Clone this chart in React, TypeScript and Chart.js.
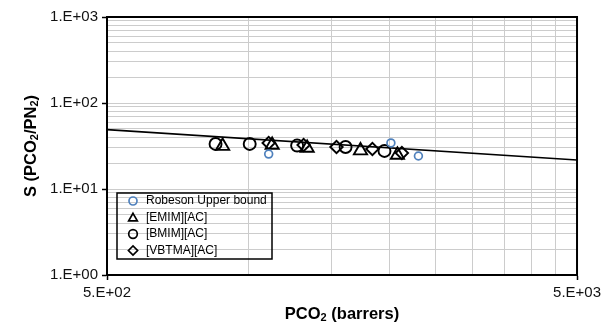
import React, { useEffect, useRef } from 'react';
import { Chart, registerables } from 'chart.js';
import { drawPoint } from 'chart.js/helpers';

Chart.register(...registerables);

// ---- data ----
const upperBoundX = [500, 5000];
const upperBoundY = [49, 21.7];

const robesonX = [1104, 2009, 2299];
const robesonY = [25.5, 34.3, 24.2];

const emimX = [881, 1123, 1333, 1731, 2074];
const emimY = [31.6, 32.5, 30.0, 28.0, 24.9];

const bmimX = [851, 1006, 1269, 1609, 1947];
const bmimY = [33.4, 33.4, 32.0, 30.8, 27.7];

const vbtmaX = [1104, 1310, 1539, 1835, 2120];
const vbtmaY = [34.3, 32.5, 30.8, 29.2, 26.2];

const seriesNames = ['Robeson Upper bound', '[EMIM][AC]', '[BMIM][AC]', '[VBTMA][AC]'];

const xGridValues = [500, 1000, 1500, 2000, 2500, 3000, 3500, 4000, 4500, 5000];
const xMajorValues = [500, 5000];
const xTickLabels = ['5.E+02', '5.E+03'];

const yGridValues = [
  1, 2, 3, 4, 5, 6, 7, 8, 9,
  10, 20, 30, 40, 50, 60, 70, 80, 90,
  100, 200, 300, 400, 500, 600, 700, 800, 900,
  1000,
];
const yMajorValues = [1, 10, 100, 1000];
const yTickLabels = ['1.E+00', '1.E+01', '1.E+02', '1.E+03'];

const FONT = "'Liberation Sans', Arial, sans-serif";
const BLUE = '#4f81bd';

const toPts = (xs: number[], ys: number[]) => xs.map((x, i) => ({ x, y: ys[i] }));

function drawSubText(
  ctx: CanvasRenderingContext2D,
  parts: [string, boolean][],
  cx: number,
  cy: number,
  bigFont: string,
  subFont: string,
  subShift: number
) {
  let total = 0;
  const widths = parts.map(([t, sub]) => {
    ctx.font = sub ? subFont : bigFont;
    const w = ctx.measureText(t).width;
    total += w;
    return w;
  });
  let x = cx - total / 2;
  ctx.textBaseline = 'middle';
  ctx.textAlign = 'left';
  parts.forEach(([t, sub], i) => {
    ctx.font = sub ? subFont : bigFont;
    ctx.fillText(t, x, sub ? cy + subShift : cy);
    x += widths[i];
  });
}

const decorPlugin = {
  id: 'decor',
  beforeDatasetsDraw(chart: any) {
    const { ctx, chartArea: a } = chart;
    ctx.save();
    ctx.strokeStyle = '#000';
    ctx.lineWidth = 2;
    ctx.strokeRect(a.left, a.top, a.right - a.left, a.bottom - a.top);
    ctx.restore();
  },
  afterDraw(chart: any) {
    const { ctx, chartArea: a } = chart;
    ctx.save();
    // axis titles
    ctx.fillStyle = '#000';
    const big = `bold 16.5px ${FONT}`;
    const sub = `bold 11px ${FONT}`;
    drawSubText(ctx, [['PCO', false], ['2', true], [' (barrers)', false]], (a.left + a.right) / 2, 314, big, sub, 4);
    ctx.save();
    ctx.translate(31, (a.top + a.bottom) / 2);
    ctx.rotate(-Math.PI / 2);
    drawSubText(
      ctx,
      [['S (PCO', false], ['2', true], ['/PN', false], ['2', true], [')', false]],
      0,
      0,
      big,
      sub,
      4
    );
    ctx.restore();

    // legend box
    const x0 = a.left + 10;
    const y0 = a.bottom - 82;
    const w = 155;
    const h = 66;
    ctx.strokeStyle = '#000';
    ctx.lineWidth = 1.5;
    ctx.strokeRect(x0, y0, w, h);
    const styles = [
      { pointStyle: 'circle', radius: 4, color: BLUE },
      { pointStyle: 'triangle', radius: 5, color: '#000' },
      { pointStyle: 'circle', radius: 4.3, color: '#000' },
      { pointStyle: 'rectRot', radius: 4.6, color: '#000' },
    ];
    ctx.font = `12px ${FONT}`;
    ctx.textBaseline = 'middle';
    ctx.textAlign = 'left';
    seriesNames.forEach((name, i) => {
      const cy = y0 + 8 + i * 16.5;
      const s = styles[i];
      ctx.strokeStyle = s.color;
      ctx.fillStyle = 'rgba(0,0,0,0)';
      ctx.lineWidth = 1.7;
      drawPoint(ctx, { pointStyle: s.pointStyle as any, radius: s.radius, rotation: 0, borderWidth: 1.7 }, x0 + 16, cy + (i === 1 ? 0.8 : 0));
      ctx.fillStyle = '#000';
      ctx.fillText(name, x0 + 29, cy);
    });
    ctx.restore();
  },
};

export default function App() {
  const ref = useRef<HTMLCanvasElement | null>(null);

  useEffect(() => {
    if (!ref.current) return;
    const chart = new Chart(ref.current, {
      type: 'scatter',
      data: {
        datasets: [
          {
            label: seriesNames[0],
            data: toPts(robesonX, robesonY),
            pointStyle: 'circle',
            pointRadius: 3.9,
            borderColor: BLUE,
            backgroundColor: 'rgba(0,0,0,0)',
            borderWidth: 1.7,
          },
          {
            label: seriesNames[1],
            data: toPts(emimX, emimY),
            pointStyle: 'triangle',
            pointRadius: 7.6,
            borderColor: '#000',
            backgroundColor: 'rgba(0,0,0,0)',
            borderWidth: 1.9,
          },
          {
            label: seriesNames[2],
            data: toPts(bmimX, bmimY),
            pointStyle: 'circle',
            pointRadius: 6,
            borderColor: '#000',
            backgroundColor: 'rgba(0,0,0,0)',
            borderWidth: 1.9,
          },
          {
            label: seriesNames[3],
            data: toPts(vbtmaX, vbtmaY),
            pointStyle: 'rectRot',
            pointRadius: 6.2,
            borderColor: '#000',
            backgroundColor: 'rgba(0,0,0,0)',
            borderWidth: 1.9,
          },
          {
            label: 'upper bound line',
            data: toPts(upperBoundX, upperBoundY),
            showLine: true,
            pointRadius: 0,
            borderColor: '#000',
            borderWidth: 1.6,
            backgroundColor: '#000',
          } as any,
        ],
      },
      options: {
        responsive: false,
        animation: false,
        layout: { padding: { left: 0, right: 27, top: 17, bottom: 0 } },
        plugins: { legend: { display: false }, tooltip: { enabled: false } },
        scales: {
          x: {
            type: 'logarithmic',
            min: 500,
            max: 5000,
            afterBuildTicks: (s: any) => {
              s.ticks = xGridValues.map((v) => ({ value: v }));
            },
            afterFit: (s: any) => {
              s.height = 60;
            },
            ticks: {
              autoSkip: false,
              maxRotation: 0,
              padding: 4,
              color: '#111',
              font: { family: FONT, size: 15 },
              callback: (v: any) => {
                const i = xMajorValues.indexOf(Number(v));
                return i >= 0 ? xTickLabels[i] : '';
              },
            },
            grid: {
              color: '#cccccc',
              lineWidth: 1,
              tickLength: 5,
              tickColor: (c: any) => (c.tick && xMajorValues.includes(c.tick.value) ? '#000' : 'rgba(0,0,0,0)'),
              tickWidth: 1.5,
            },
            border: { color: '#000', width: 2 },
          },
          y: {
            type: 'logarithmic',
            min: 1,
            max: 1000,
            afterBuildTicks: (s: any) => {
              s.ticks = yGridValues.map((v) => ({ value: v }));
            },
            afterFit: (s: any) => {
              s.width = 107;
            },
            ticks: {
              autoSkip: false,
              padding: 4,
              color: '#111',
              font: { family: FONT, size: 15 },
              callback: (v: any) => {
                const i = yMajorValues.indexOf(Number(v));
                return i >= 0 ? yTickLabels[i] : '';
              },
            },
            grid: {
              color: '#cccccc',
              lineWidth: 1,
              tickLength: 5,
              tickColor: (c: any) => (c.tick && yMajorValues.includes(c.tick.value) ? '#000' : 'rgba(0,0,0,0)'),
              tickWidth: 1.5,
            },
            border: { color: '#000', width: 2 },
          },
        },
      },
      plugins: [decorPlugin],
    });
    return () => chart.destroy();
  }, []);

  return (
    <div style={{ position: 'absolute', left: 0, top: 0, width: 605, height: 335, background: '#fff' }}>
      <canvas ref={ref} width={605} height={335} style={{ display: 'block' }} />
    </div>
  );
}
